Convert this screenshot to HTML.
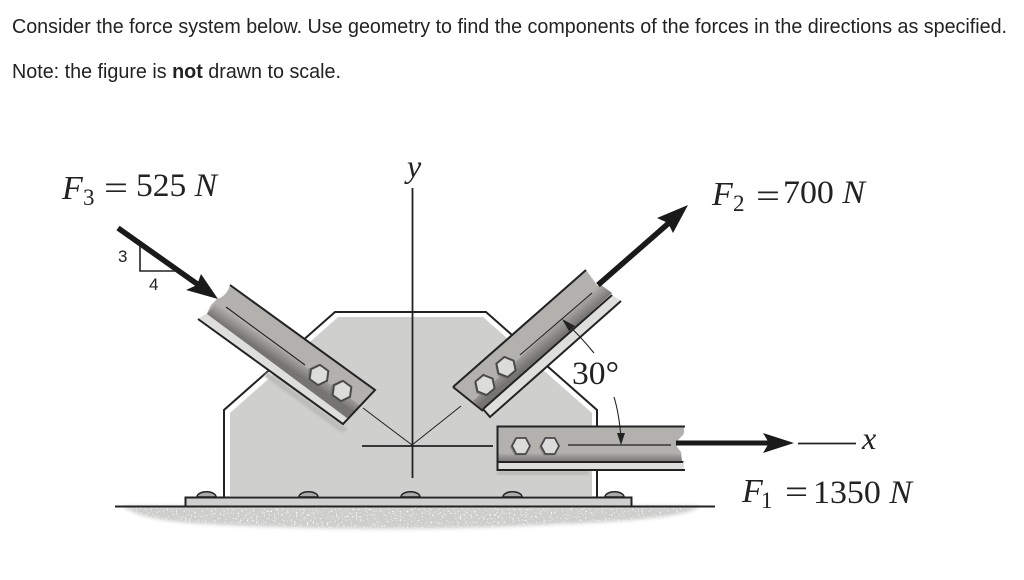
<!DOCTYPE html>
<html><head><meta charset="utf-8"><style>
html,body{margin:0;padding:0;background:#fff;width:1024px;height:580px;overflow:hidden}
svg{display:block}
.s{font-family:"Liberation Serif",serif;fill:#222}
.i{font-style:italic}
.l{stroke:#222;fill:none}
</style></head><body>
<svg width="1024" height="580" viewBox="0 0 1024 580" xmlns="http://www.w3.org/2000/svg">
<defs>
<filter id="b" color-interpolation-filters="sRGB" x="-5%" y="-30%" width="110%" height="160%">
<feGaussianBlur in="SourceGraphic" stdDeviation="1.800" result="soft"/>
<feTurbulence type="fractalNoise" baseFrequency=".55" numOctaves="2" seed="4" result="n"/>
<feColorMatrix in="n" type="matrix" values="0 0 0 0 1  0 0 0 0 1  0 0 0 0 1  0 0 0 5 -2.900" result="spk"/>
<feComposite in="spk" in2="soft" operator="in" result="spk2"/>
<feMerge><feMergeNode in="soft"/><feMergeNode in="spk2"/></feMerge>
</filter>
<filter id="sh" color-interpolation-filters="sRGB"><feGaussianBlur stdDeviation="1"/></filter>
<linearGradient id="h" x1="0" y1="0" x2="0" y2="1"><stop offset="0" stop-color="#b3b1ae"/><stop offset=".35" stop-color="#9a9896"/><stop offset="1" stop-color="#757473"/></linearGradient>
<linearGradient id="d1" gradientUnits="userSpaceOnUse" x1="216" y1="303" x2="208" y2="315"><stop offset="0" stop-color="#b3b1ae"/><stop offset=".4" stop-color="#9a9896"/><stop offset="1" stop-color="#757473"/></linearGradient>
<linearGradient id="d2" gradientUnits="userSpaceOnUse" x1="600" y1="284" x2="610" y2="296"><stop offset="0" stop-color="#b3b1ae"/><stop offset=".4" stop-color="#9a9896"/><stop offset="1" stop-color="#757473"/></linearGradient>
<g id="hex"><polygon points="-9.500,0 -5,-8.500 5,-8.500 9.500,0 5,8.500 -5,8.500" fill="#777" transform="translate(-1.500,1)" opacity=".6"/><polygon points="-9,0 -4.700,-8 4.700,-8 9,0 4.700,8 -4.700,8" fill="#dcdcda" stroke="#4a4a4a" stroke-width="1.800"/></g>
</defs>

<text x="12" y="33" font-family="Liberation Sans,sans-serif" font-size="20" fill="#222" textLength="995" lengthAdjust="spacingAndGlyphs">Consider the force system below. Use geometry to find the components of the forces in the directions as specified.</text>
<text x="12" y="78" font-family="Liberation Sans,sans-serif" font-size="20" fill="#222" textLength="329" lengthAdjust="spacingAndGlyphs">Note: the figure is <tspan font-weight="bold">not</tspan> drawn to scale.</text>

<!-- ground -->
<path d="M122 506H700C690 516 640 521 560 524C440 531 300 530 190 523C155 520 135 515 122 506Z" fill="#cdcdcc" filter="url(#b)"/>

<!-- plate -->
<path d="M230 496V413L338 317H483L592 413V496Z" fill="#cfcfcd"/>
<path class="l" stroke-width="2" d="M224 497V410L335 312H486L597 410V497"/>

<!-- rivets -->
<g fill="#aaa" stroke="#222" stroke-width="1.500">
<path d="M197 497a9 5 0 0 1 19 0Z"/><path d="M299 497a9 5 0 0 1 19 0Z"/><path d="M401 497a9 5 0 0 1 19 0Z"/><path d="M503 497a9 5 0 0 1 19 0Z"/><path d="M605 497a9 5 0 0 1 19 0Z"/>
</g>

<!-- base -->
<rect x="185.500" y="497.500" width="446" height="9" fill="#cfcfcd" stroke="#222" stroke-width="2"/>
<path class="l" stroke-width="2" d="M115 506.500H715"/>

<!-- axes -->
<path class="l" stroke-width="1.800" d="M412.500 188V478M362 446H493"/>
<path class="l" stroke-width="1" d="M363 408L412 445L461 406"/>

<!-- left brace shadows -->
<path d="M268 372L343 426L348 428L343 433L335 428L264 376Z" fill="#bcbcba" filter="url(#sh)"/>
<!-- left brace -->
<path d="M198 319L343 424L350 416L207 313Z" fill="#dededc"/>
<path d="M230 285L375 390L347 418L207 313L211 305L217 299C224 297 228 292 230 285Z" fill="#b3b1ae"/>
<path d="M216 303L361 406L347 418L207 314Z" fill="url(#d1)"/>
<path class="l" stroke-width="2" d="M230 285L375 390L343 424L198 319"/>
<path class="l" stroke-width="1.100" d="M226 307L305 365"/>
<use href="#hex" transform="translate(319,375) rotate(36) scale(1.100)"/>
<use href="#hex" transform="translate(342,391) rotate(36) scale(1.100)"/>

<!-- right brace -->
<path d="M490 417L483 409L612 295L621 301Z" fill="#dededc"/>
<path d="M586 270L597 285C601 290 606 290 612 293L483 410L453 387Z" fill="#b3b1ae"/>
<path d="M600 284L612 293L483 410L473 401Z" fill="url(#d2)"/>
<path class="l" stroke-width="2" d="M621 301L490 417L483 409M453 387L586 270M453 387L483 411M483 409L612 295"/>
<path class="l" stroke-width="1.100" d="M520 355L592 293"/>
<use href="#hex" transform="translate(506,367) rotate(-40) scale(1.100)"/>
<use href="#hex" transform="translate(485,385) rotate(-40) scale(1.100)"/>

<!-- horizontal brace -->
<rect x="497" y="471" width="92" height="4" fill="#b9b9b7" filter="url(#sh)"/>
<rect x="497" y="426" width="187" height="27" fill="#b3b1ae"/>
<rect x="497" y="453" width="187" height="9" fill="url(#h)"/>
<rect x="497" y="462" width="187" height="8" fill="#dededc"/>
<path class="l" stroke-width="2" d="M685 426.500H497.500V470H685M498 462H683"/>
<path d="M686 428L683 435L677 441V447L681 452L682 461H686Z" fill="#fff"/>
<path class="l" stroke-width="1.300" d="M568 445H671"/>
<use href="#hex" transform="translate(521,446)"/>
<use href="#hex" transform="translate(550,446)"/>

<!-- angle arrows -->
<path class="l" stroke-width="1.100" d="M594 353C585 342 575 331 565 322"/>
<path fill="#222" d="M562 319L575 326L569 331Z"/>
<path class="l" stroke-width="1.100" d="M614 397C618 410 620 425 621 438"/>
<path fill="#222" d="M621 445L617 433L625 433Z"/>
<text class="s" x="572" y="384" font-size="33" textLength="47" lengthAdjust="spacingAndGlyphs">30°</text>

<!-- F1 arrow -->
<path stroke="#1a1a1a" stroke-width="5" d="M676 443H770"/>
<path fill="#1a1a1a" d="M794 443L763 433L769 443L763 453Z"/>
<path class="l" stroke-width="1.800" d="M798 443.500H856"/>
<text class="s i" x="862" y="449" font-size="32">x</text>
<text class="s i" x="742" y="502" font-size="34">F</text>
<text class="s" x="761" y="508" font-size="23">1</text>
<text class="s" x="785" y="503" font-size="34" textLength="23" lengthAdjust="spacingAndGlyphs">=</text>
<text class="s" x="813" y="503" font-size="33" textLength="99" lengthAdjust="spacingAndGlyphs">1350 <tspan class="i">N</tspan></text>

<!-- F2 arrow -->
<path stroke="#1a1a1a" stroke-width="5.500" d="M598 285L670 222"/>
<path fill="#1a1a1a" d="M688 205L657 218L668 223L673 233Z"/>
<text class="s i" x="712" y="205" font-size="34">F</text>
<text class="s" x="733" y="211" font-size="23">2</text>
<text class="s" x="756" y="207" font-size="34" textLength="24" lengthAdjust="spacingAndGlyphs">=</text>
<text class="s" x="783" y="203" font-size="33" textLength="82" lengthAdjust="spacingAndGlyphs">700 <tspan class="i">N</tspan></text>

<!-- y -->
<text class="s i" x="407" y="177" font-size="32">y</text>

<!-- F3 -->
<text class="s i" x="62" y="199" font-size="34">F</text>
<text class="s" x="83" y="205" font-size="23">3</text>
<text class="s" x="104" y="199" font-size="34" textLength="24" lengthAdjust="spacingAndGlyphs">=</text>
<text class="s" x="136" y="196" font-size="33" textLength="81" lengthAdjust="spacingAndGlyphs">525 <tspan class="i">N</tspan></text>

<!-- F3 arrow -->
<path stroke="#1a1a1a" stroke-width="5.500" d="M118 228L200 286"/>
<path fill="#1a1a1a" d="M218 299L186 290L197 285L201 274Z"/>
<path class="l" stroke-width="1.600" d="M140 246V271H177"/>
<text x="118" y="262" font-family="Liberation Sans,sans-serif" font-size="17" fill="#222">3</text>
<text x="149" y="290" font-family="Liberation Sans,sans-serif" font-size="17" fill="#222">4</text>
</svg>
</body></html>
